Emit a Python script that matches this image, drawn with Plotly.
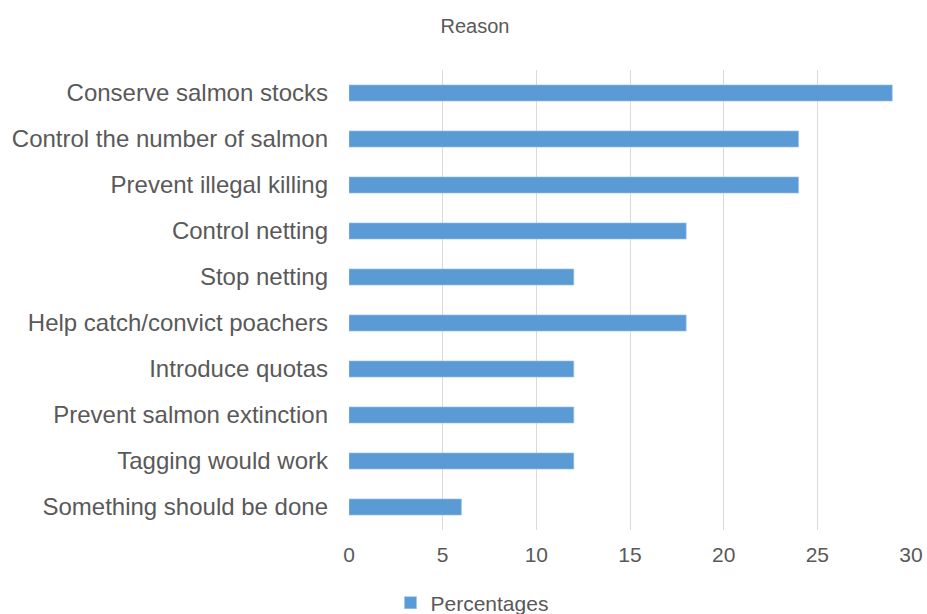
import plotly.graph_objects as go

categories = [
    "Conserve salmon stocks",
    "Control the number of salmon",
    "Prevent illegal killing",
    "Control netting",
    "Stop netting",
    "Help catch/convict poachers",
    "Introduce quotas",
    "Prevent salmon extinction",
    "Tagging would work",
    "Something should be done",
]
percentages = [29, 24, 24, 18, 12, 18, 12, 12, 12, 6]
x_ticks = [0, 5, 10, 15, 20, 25, 30]

fig = go.Figure()
fig.add_trace(go.Bar(
    y=categories,
    x=percentages,
    orientation="h",
    name="Percentages",
    marker=dict(color="#5B9BD5", line=dict(color="#9DC3E6", width=0.6)),
    showlegend=True,
))

W, H = 927, 614
L, R, T, B = 349, 16, 70, 84

fig.update_layout(
    width=W, height=H,
    margin=dict(l=L, r=R, t=T, b=B),
    paper_bgcolor="white",
    plot_bgcolor="white",
    font=dict(family="Liberation Sans, Arial, sans-serif"),
    bargap=0.65,
    title=dict(
        text="Reason",
        x=475 / W, xref="container", xanchor="center",
        y=1 - 26 / H, yref="container", yanchor="middle",
        font=dict(size=20, color="#595959"),
    ),
    xaxis=dict(
        range=[0, 30],
        tickvals=x_ticks,
        automargin=False,
        showgrid=True, gridcolor="#D9D9D9", gridwidth=1,
        zeroline=False, showline=False,
        ticks="", tickfont=dict(size=21, color="#595959"),
        ticklabelstandoff=10,
    ),
    yaxis=dict(
        autorange="reversed",
        automargin=False,
        showgrid=False, zeroline=False, showline=False,
        ticks="", tickfont=dict(size=24, color="#595959"),
        ticklabelstandoff=20,
    ),
    legend=dict(
        orientation="h",
        x=472 / W, xref="container", xanchor="center",
        y=1 - 603 / H, yref="container", yanchor="middle",
        font=dict(size=21, color="#595959"),
        itemwidth=30,
    ),
)

fig.write_html("out.html")
